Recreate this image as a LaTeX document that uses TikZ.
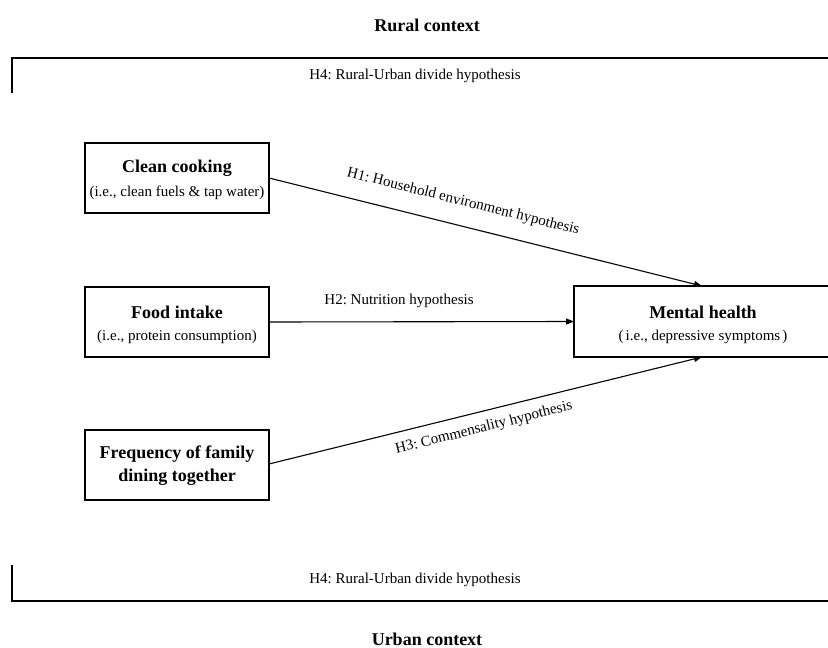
\documentclass[tikz,border=0pt]{standalone}
\usepackage{fontspec}
\setmainfont{Liberation Serif}
\frenchspacing
\usetikzlibrary{arrows.meta}
\begin{document}
\begin{tikzpicture}[x=1pt,y=-1pt,
  every node/.style={inner sep=0pt, outer sep=0pt},
  txt/.style={font=\fontsize{15}{18}\selectfont},
  ttl/.style={font=\fontsize{18}{22}\selectfont\bfseries},
  varbox/.style={draw, line width=1.1pt, minimum width=184pt, minimum height=70pt},
  frame/.style={line width=1.1pt},
  link/.style={line width=1.1pt, -{Triangle[length=8pt,width=6pt]}}]
\useasboundingbox (0,0) rectangle (828,648);

% context titles
\node[ttl] (rural) at (427,25) {Rural context};
\node[ttl] (urban) at (427,639) {Urban context};

% H4 brackets
\coordinate (t1) at (12,93);
\coordinate (t2) at (12,58);
\coordinate (t3) at (832,58);
\draw[frame] (t1) -- (t2) -- (t3);
\node[txt] (h4top) at (415,76) {H4: Rural-Urban divide hypothesis};
\coordinate (b1) at (12,565);
\coordinate (b2) at (12,601);
\coordinate (b3) at (832,601);
\draw[frame] (b1) -- (b2) -- (b3);
\node[txt] (h4bot) at (415,580) {H4: Rural-Urban divide hypothesis};

% boxes
\node[varbox] (clean) at (177,178) {};
\node[ttl] (cleant) at (177,168) {Clean cooking};
\node[txt] (cleans) at (177,193) {(i.e., clean fuels \& tap water)};

\node[varbox] (food) at (177,322) {};
\node[ttl] (foodt) at (177,312) {Food intake};
\node[txt] (foods) at (177,337) {(i.e., protein consumption)};

\node[varbox] (freq) at (177,465) {};
\node[ttl] (freqa) at (177,454) {Frequency of family};
\node[ttl] (freqb) at (177,477) {dining together};

\node[varbox, minimum width=258pt, minimum height=71pt] (mental) at (703,321.5) {};
\node[ttl] (mentalt) at (703,312) {Mental health};
\node[txt] (mentals) at (703,337) {(\kern2pt i.e., depressive symptoms\kern2pt)};

% arrows
\coordinate (m1) at (702,286);
\coordinate (m3) at (702,357);
\draw[link] (clean.east |- 0,178) -- (m1);
\draw[link] (food.east) -- (mental.west);
\draw[link] (freq.east |- 0,464) -- (m3);

% arrow labels
\node[txt, rotate=-14] (h1) at (463,202) {H1: Household environment hypothesis};
\node[txt] (h2) at (399,301) {H2: Nutrition hypothesis};
\node[txt, rotate=14] (h3) at (484,428) {H3: Commensality hypothesis};
\end{tikzpicture}
\end{document}
